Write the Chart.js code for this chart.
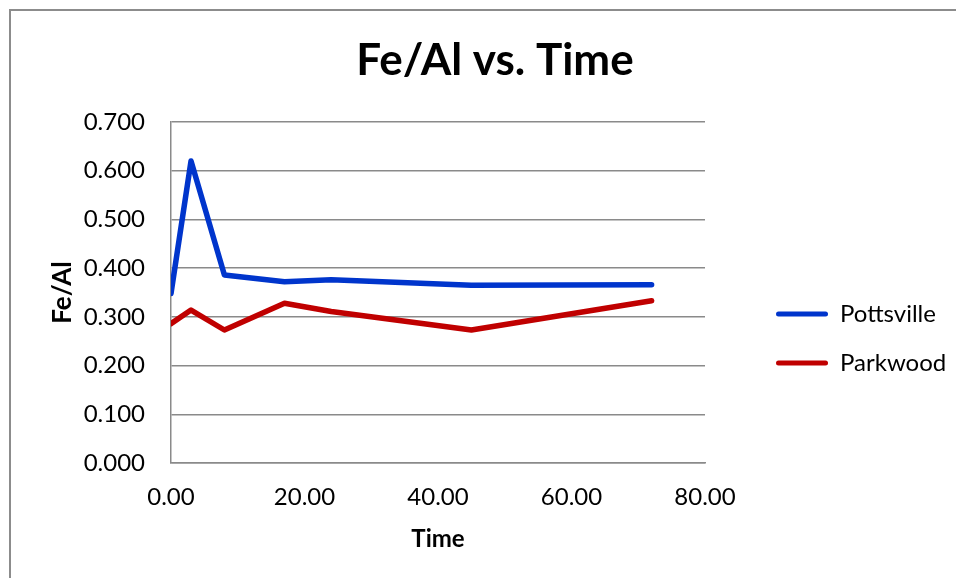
<!DOCTYPE html>
<html>
<head>
<meta charset="utf-8">
<script src="https://cdn.jsdelivr.net/npm/chart.js@4/dist/chart.umd.min.js"></script>
<style>
  html, body { margin: 0; padding: 0; background: #ffffff; }
  #wrap { width: 956px; height: 578px; position: relative; }
</style>
</head>
<body>
<div id="wrap"><canvas id="c" width="956" height="578"></canvas></div>
<script>
// ---- Data ----
const timeValues = [0, 3, 8, 17, 24, 45, 72];
const pottsville = [0.348, 0.620, 0.386, 0.372, 0.376, 0.365, 0.366];
const parkwood   = [0.286, 0.314, 0.273, 0.328, 0.311, 0.273, 0.333];
const seriesNames = ['Pottsville', 'Parkwood'];
const chartTitle = 'Fe/Al vs. Time';
const xTitle = 'Time';
const yTitle = 'Fe/Al';
const xTicks = [0, 20, 40, 60, 80];
const yTicks = [0, 0.1, 0.2, 0.3, 0.4, 0.5, 0.6, 0.7];

const FONT = 'Lato, "Open Sans", sans-serif';
const GRID = '#8a8a8a';

function toPoints(xs, ys) { return xs.map((x, i) => ({ x: x, y: ys[i] })); }

const layoutPlugin = {
  id: 'layoutTweaks',
  beforeLayout(chart) {
    const lg = chart.legend;
    if (lg && !lg._fixedWidth) {
      const origFit = lg.fit;
      lg.fit = function () { origFit.call(this); this.width = 251; };
      lg._fixedWidth = true;
    }
  },
  afterLayout(chart) {
    if (chart.legend) { chart.legend.left = 751; chart.legend.top = 277; }
    if (chart.titleBlock) { chart.titleBlock.left += 17; chart.titleBlock.right += 17; }
  },
  beforeDraw(chart) {
    const ctx = chart.ctx;
    ctx.save();
    ctx.fillStyle = '#ffffff';
    ctx.fillRect(0, 0, chart.width, chart.height);
    ctx.strokeStyle = '#8c8c8c';
    ctx.lineWidth = 2;
    ctx.strokeRect(10, 10, 2000, 2000);
    ctx.restore();
  }
};

new Chart(document.getElementById('c'), {
  type: 'scatter',
  data: {
    datasets: [
      { label: seriesNames[0], data: toPoints(timeValues, pottsville), showLine: true,
        borderColor: '#0035CC', backgroundColor: '#0035CC', borderWidth: 5.5,
        pointRadius: 0, pointHoverRadius: 0, borderCapStyle: 'round', borderJoinStyle: 'round', tension: 0 },
      { label: seriesNames[1], data: toPoints(timeValues, parkwood), showLine: true,
        borderColor: '#C00000', backgroundColor: '#C00000', borderWidth: 5.5,
        pointRadius: 0, pointHoverRadius: 0, borderCapStyle: 'round', borderJoinStyle: 'round', tension: 0 }
    ]
  },
  options: {
    responsive: false,
    animation: false,
    devicePixelRatio: 1,
    layout: { padding: 0 },
    plugins: {
      tooltip: { enabled: false },
      title: {
        display: true, text: chartTitle, color: '#000',
        font: { family: FONT, size: 44, weight: 'bold', lineHeight: 1.2 },
        padding: { top: 34.6, bottom: 34.6 }
      },
      legend: {
        display: true, position: 'right', align: 'start',
        labels: {
          color: '#000', boxWidth: 52, boxHeight: 5, padding: 25,
          useBorderRadius: true, borderRadius: 2.5,
          font: { family: FONT, size: 24, lineHeight: 1.2 },
          generateLabels(chart) {
            return Chart.defaults.plugins.legend.labels.generateLabels(chart).map(it => {
              it.fillStyle = it.strokeStyle; it.lineWidth = 0; return it;
            });
          }
        }
      }
    },
    scales: {
      x: {
        type: 'linear', position: 'bottom', min: 0, max: 80,
        afterFit(scale) { scale.height = 115; },
        afterBuildTicks(scale) { scale.ticks = xTicks.map(v => ({ value: v })); },
        ticks: { color: '#000', padding: 20, font: { family: FONT, size: 24, lineHeight: 1.2 },
                 maxRotation: 0, autoSkip: false, callback: v => Number(v).toFixed(2) },
        grid: { display: false, drawTicks: false },
        border: { display: true, color: GRID, width: 1.5 },
        title: { display: true, text: xTitle, color: '#000',
                 font: { family: FONT, size: 24, weight: 'bold', lineHeight: 1.2 },
                 padding: { top: 0, bottom: 24 } }
      },
      y: {
        type: 'linear', position: 'left', min: 0, max: 0.7,
        afterFit(scale) { scale.width = 171; },
        afterBuildTicks(scale) { scale.ticks = yTicks.map(v => ({ value: v })); },
        ticks: { color: '#000', padding: 26, font: { family: FONT, size: 24, lineHeight: 1.2 },
                 autoSkip: false, callback: v => Number(v).toFixed(3) },
        grid: { display: true, color: GRID, lineWidth: 1.5, drawTicks: false },
        border: { display: true, color: GRID, width: 1.5 },
        title: { display: true, text: yTitle, color: '#000',
                 font: { family: FONT, size: 26, weight: 'bold', lineHeight: 1.2 },
                 padding: { top: 47, bottom: 0 } }
      }
    }
  },
  plugins: [layoutPlugin]
});
</script>
</body>
</html>
